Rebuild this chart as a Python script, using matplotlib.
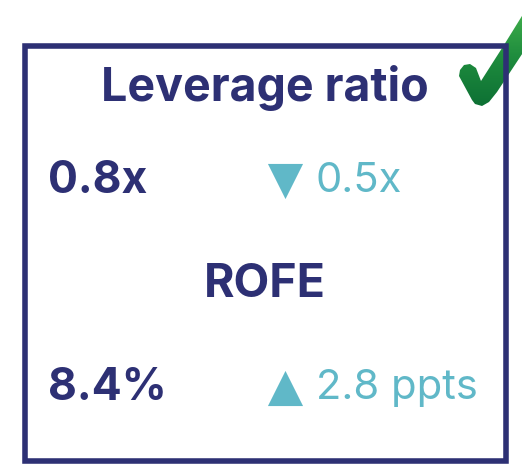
import numpy as np
import matplotlib.pyplot as plt
from matplotlib.patches import Rectangle, Polygon
from matplotlib.colors import LinearSegmentedColormap

# KPI-Karten Daten
titel = ["Leverage ratio", "ROFE"]
werte = ["0.8x", "8.4%"]
aenderungen = ["0.5x", "2.8 ppts"]
richtungen = ["down", "up"]

NAVY = "#2d3074"
TEAL = "#60b8c8"

W, H = 522, 465
fig = plt.figure(figsize=(W / 100, H / 100), dpi=100)
ax = fig.add_axes([0, 0, 1, 1])
ax.set_xlim(0, W)
ax.set_ylim(H, 0)
ax.axis("off")

# Rahmen
ax.add_patch(Rectangle((24.5, 46), 481.5, 415, fill=False, edgecolor=NAVY, linewidth=4))

font = "Inter"
titel_y = [88, 285]
wert_y = [181, 388]
for i in range(len(titel)):
    ax.text(265, titel_y[i], titel[i], ha="center", va="center", fontsize=33.5,
            fontweight="bold", color=NAVY, family=font)
    ax.text(48, wert_y[i], werte[i], ha="left", va="center", fontsize=32,
            fontweight="bold", color=NAVY, family=font)
    marker = "v" if richtungen[i] == "down" else "^"
    ax.scatter([285], [wert_y[i]], marker=marker, s=640, color=TEAL, linewidths=0)
    ax.text(316, wert_y[i], aenderungen[i], ha="left", va="center", fontsize=30,
            color=TEAL, family=font)

# Häkchen mit Farbverlauf
haken = Polygon([(460, 70), (464, 65), (470, 64), (476, 68), (481, 81), (504, 45),
                 (517, 24), (525, 11), (545, 20), (530, 42), (497, 92), (489, 102),
                 (482, 106), (475, 104), (472, 100), (459, 76)],
                closed=True, facecolor="none", edgecolor="none")
ax.add_patch(haken)
cmap = LinearSegmentedColormap.from_list("gruen", ["#45b34d", "#1f8d3e", "#0d7034"])
verlauf = np.linspace(0, 1, 100).reshape(-1, 1)
bild = ax.imshow(verlauf, cmap=cmap, extent=(455, 550, 107, 5), aspect="auto",
                 interpolation="bilinear")
bild.set_clip_path(haken)
ax.set_xlim(0, W)
ax.set_ylim(H, 0)

fig.savefig("out.png", dpi=100)
